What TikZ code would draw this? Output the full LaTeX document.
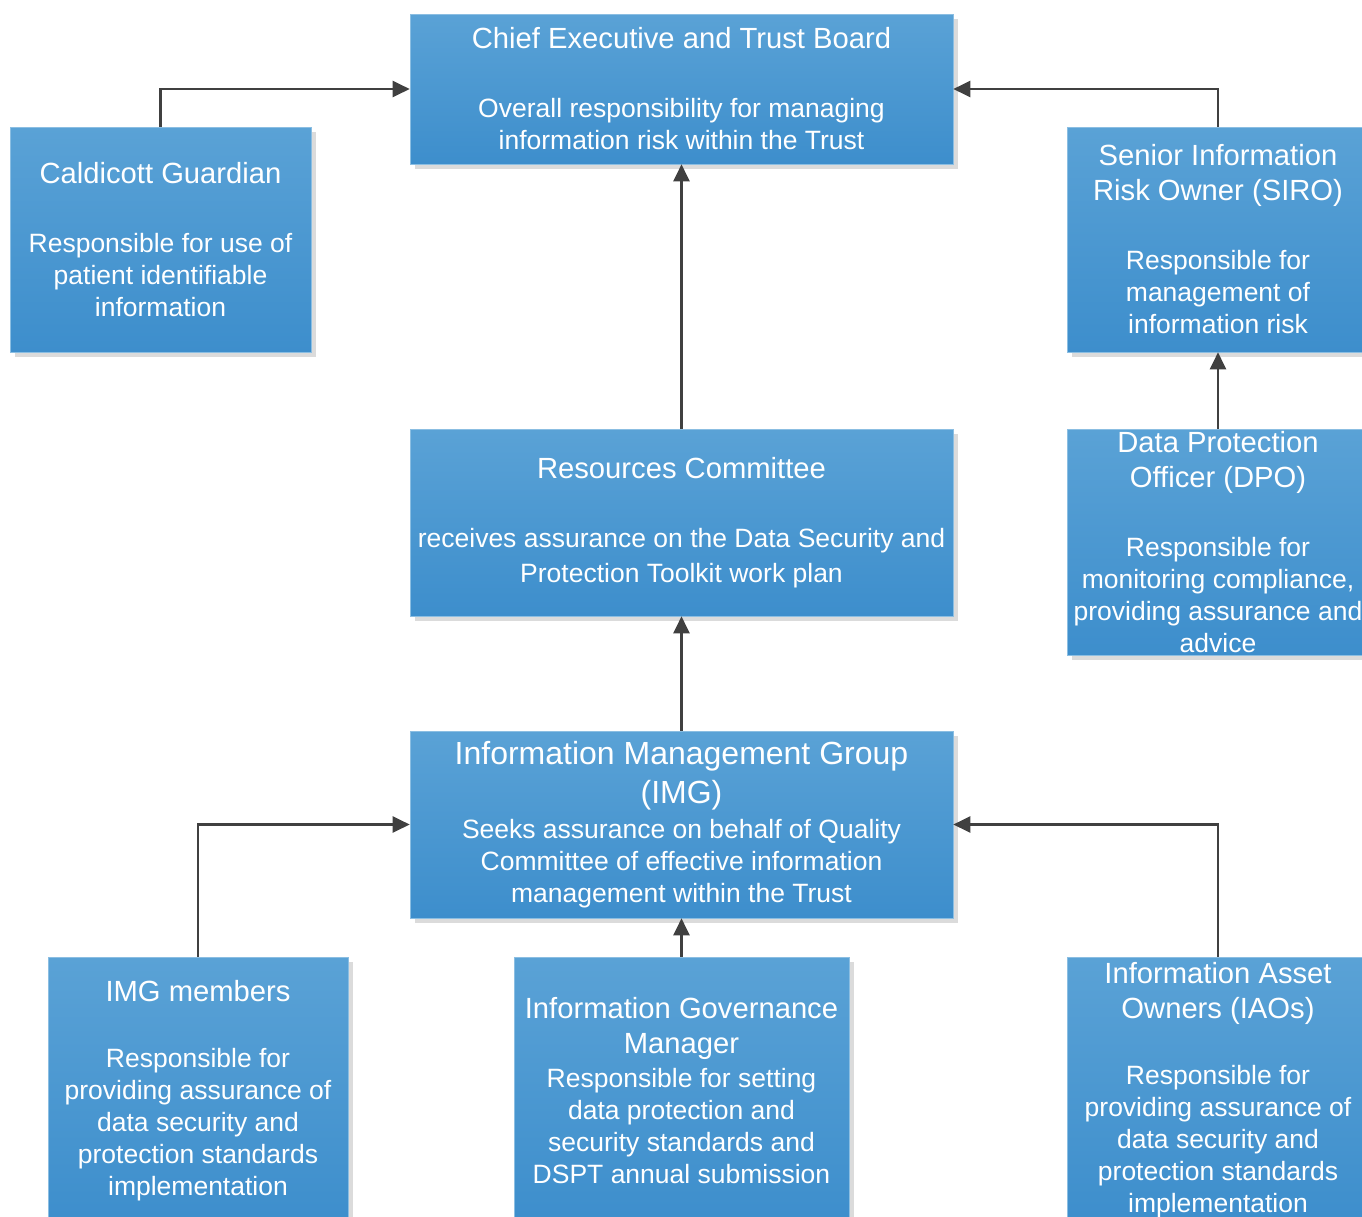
\documentclass[tikz,border=0pt]{standalone}
\usepackage{fontspec}
\setmainfont{Liberation Sans}
\usetikzlibrary{arrows.meta,positioning,shadows}
\definecolor{boxtop}{HTML}{5AA2D6}
\definecolor{boxbot}{HTML}{3D8ECC}
\definecolor{linkgray}{HTML}{404040}
\newcommand{\hd}{\fontsize{14.6}{17.5}\selectfont}
\newcommand{\hdbig}{\fontsize{16}{19.5}\selectfont}
\newcommand{\bd}{\fontsize{13.25}{16}\selectfont}

\begin{document}
\begin{tikzpicture}[
        x=0.5pt, y=-0.5pt,
        >={Triangle[length=8.5pt,width=8pt]},
        box/.style={rectangle, top color=boxtop, bottom color=boxbot,
            draw=boxtop!70!white, line width=0.3pt, text=white,
            align=center, inner sep=0pt, font=\bd,
            drop shadow={shadow xshift=2.5pt, shadow yshift=-2.5pt,
                fill=black!14, opacity=1}},
        link/.style={->, draw=linkgray, line width=1.1pt}
    ]
    \fill[white] (0,0) rectangle (1362,1217);
    \useasboundingbox (0,0) rectangle (1362,1217);

    % top row
    \node[box, minimum width=271.5pt, minimum height=75pt] (ceo) at (681.5,89)
        {\hd Chief Executive and Trust Board\\[18.5pt]
         Overall responsibility for managing\\information risk within the Trust};
    \node[box, minimum width=150.5pt, minimum height=112.5pt] (cg) at (160.5,239.5)
        {\hd Caldicott Guardian\\[18.5pt]
         Responsible for use of\\patient identifiable\\information};
    \node[box, minimum width=151pt, minimum height=112.5pt] (siro) at (1218,239.5)
        {\hd Senior Information\\[1.5pt]\hd Risk Owner (SIRO)\\[18.5pt]
         Responsible for\\management of\\information risk};

    % middle
    \node[box, minimum width=271.5pt, minimum height=93.5pt] (rc) at (681.5,522.5)
        {\hd Resources Committee\\[18.5pt]
         receives assurance on the Data Security and\\[1.5pt]Protection Toolkit work plan};
    \node[box, minimum width=151pt, minimum height=113pt] (dpo) at (1218,542)
        {\hd Data Protection\\[1.5pt]\hd Officer (DPO)\\[18.5pt]
         Responsible for\\monitoring compliance,\\providing assurance and\\advice};
    \node[box, minimum width=271.5pt, minimum height=93.5pt] (img) at (681.5,824.5)
        {\hdbig Information Management Group\\[3.5pt]\hdbig (IMG)\\[1.5pt]
         Seeks assurance on behalf of Quality\\Committee of effective information\\management within the Trust};

    % bottom row
    \node[box, minimum width=150pt, minimum height=133.5pt] (mem) at (198,1090.5)
        {\hd IMG members\\[17pt]
         Responsible for\\providing assurance of\\data security and\\protection standards\\implementation};
    \node[box, minimum width=167.5pt, minimum height=133.5pt] (igm) at (681.5,1090.5)
        {\hd Information Governance\\[1.5pt]\hd Manager\\[1pt]
         Responsible for setting\\data protection and\\security standards and\\DSPT annual submission};
    \node[box, minimum width=151pt, minimum height=133.5pt] (iao) at (1218,1090.5)
        {\hd Information Asset\\[1.5pt]\hd Owners (IAOs)\\[17pt]
         Responsible for\\providing assurance of\\data security and\\protection standards\\implementation};

    % links
    \draw[link] (cg.north) |- (ceo.west);
    \draw[link] (siro.north) |- (ceo.east);
    \draw[link] (rc) -- (ceo);
    \draw[link] (dpo) -- (siro);
    \draw[link] (img) -- (rc);
    \draw[link] (mem.north) |- (img.west);
    \draw[link] (iao.north) |- (img.east);
    \draw[link] (igm) -- (img);
\end{tikzpicture}
\end{document}
